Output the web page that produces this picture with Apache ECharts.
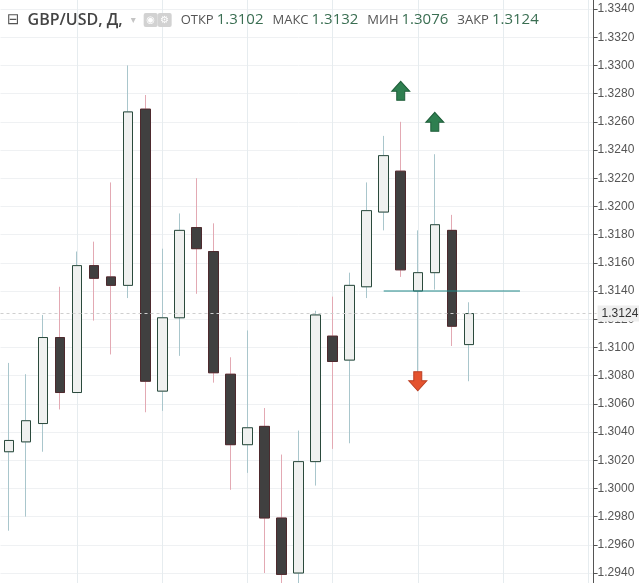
<!DOCTYPE html>
<html><head><meta charset="utf-8">
<script src="https://cdn.jsdelivr.net/npm/echarts@6/dist/echarts.min.js"></script>
<style>html,body{margin:0;padding:0;background:#fff}#c{width:639px;height:583px}</style>
</head><body><div id="c"></div>
<script>
// ---- data ----
const categories = ['D1','D2','D3','D4','D5','D6','D7','D8','D9','D10','D11','D12','D13','D14','D15','D16','D17','D18','D19','D20','D21','D22','D23','D24','D25','D26','D27','D28','D29','D30','D31','D32','D33','D34','D35'];
const opens  = [1.3026,1.3033,1.3046,1.3107,1.3068,1.3158,1.3150,1.3144,1.3269,1.3069,1.3121,1.3185,1.3168,1.3081,1.3031,1.3044,1.2979,1.2940,1.3019,1.3108,1.3091,1.3143,1.3196,1.3225,1.3140,1.3153,1.3183,1.3102];
const closes = [1.3034,1.3048,1.3107,1.3068,1.3158,1.3149,1.3144,1.3267,1.3076,1.3121,1.3183,1.3170,1.3082,1.3031,1.3043,1.2979,1.2939,1.3019,1.3123,1.3090,1.3144,1.3197,1.3236,1.3155,1.3153,1.3187,1.3115,1.3124];
const lows   = [1.2970,1.2980,1.3026,1.3056,1.3068,1.3119,1.3095,1.3135,1.3054,1.3055,1.3094,1.3138,1.3075,1.2999,1.3011,1.2940,1.2930,1.2930,1.3002,1.3028,1.3032,1.3135,1.3183,1.3150,1.3082,1.3141,1.3101,1.3076];
const highs  = [1.3089,1.3081,1.3123,1.3143,1.3168,1.3175,1.3217,1.3300,1.3279,1.3170,1.3195,1.3220,1.3188,1.3093,1.3112,1.3057,1.3024,1.3041,1.3126,1.3136,1.3153,1.3217,1.3250,1.3260,1.3183,1.3237,1.3194,1.3132];
const axisMin = 1.2920, axisMax = 1.3360, axisStep = 0.0020;
const lastPrice = 1.3124;
const headerSymbol = 'GBP/USD, Д,';
const headerLabels = ['ОТКР','МАКС','МИН','ЗАКР'];
const headerValues = ['1.3102','1.3132','1.3076','1.3124'];
const levelFrom = 22, levelTo = 30, levelValue = 1.3140;
const upArrowIdx = [23, 25], upArrowVal = [1.3282, 1.3260];
const downArrowIdx = [24], downArrowVal = [1.3076];

// ---- build ----
const wickData = opens.map((o,i)=>[o, closes[i], lows[i], highs[i]]);
const bodyData = opens.map((o,i)=>[o, closes[i], Math.min(o,closes[i]), Math.max(o,closes[i])]);

let headerText = '{ic|⊟}{sym|' + headerSymbol + '}{dd|▾}{ib|◉}{ib2|⚙}';
headerLabels.forEach((l,i)=>{ headerText += '{lb|' + l + '}{v|' + headerValues[i] + '}'; });

const UP = 'path://M9,0 L18,10 L13,10 L13,19 L5,19 L5,10 L0,10 Z';
const DOWN = 'path://M5,0 L13,0 L13,9 L18,9 L9,19 L0,9 L5,9 Z';
const BW = 10;

const chart = echarts.init(document.getElementById('c'), null, {renderer:'canvas'});
chart.setOption({
  animation: false,
  backgroundColor: '#ffffff',
  title: {
    text: headerText, left: 2, top: 7,
    textStyle: {
      fontWeight: 'normal',
      rich: {
        ic: {fontSize: 15, color: '#555', fontFamily: 'DejaVu Sans', padding: [0, 8, 0, 0]},
        sym: {fontSize: 16, color: '#444', fontFamily: 'Open Sans', fontWeight: 600, padding: [0, 8, 0, 0]},
        dd: {fontSize: 10, color: '#c4c4c4', fontFamily: 'DejaVu Sans', padding: [0, 8, 0, 0]},
        ib: {fontSize: 10, color: '#fff', backgroundColor: '#d2d2d2', width: 14, height: 14, align: 'center', borderRadius: 2, fontFamily: 'DejaVu Sans'},
        ib2: {fontSize: 10, color: '#fff', backgroundColor: '#d2d2d2', width: 14, height: 14, align: 'center', borderRadius: 2, fontFamily: 'DejaVu Sans'},
        lb: {fontSize: 13, color: '#555', fontFamily: 'Open Sans', fontWeight: 'normal', padding: [0, 3, 0, 9]},
        v: {fontSize: 15, color: '#3a6e52', fontFamily: 'Open Sans', fontWeight: 'normal'}
      }
    }
  },
  grid: {left: 0.5, right: 42.4, top: -19.2, bottom: -18.2, containLabel: false, outerBoundsMode: 'none'},
  xAxis: {
    type: 'category', data: categories, boundaryGap: true,
    axisLine: {show: false}, axisTick: {show: false}, axisLabel: {show: false},
    splitLine: {show: true, alignWithLabel: true, interval: (idx)=> idx % 5 === 4, lineStyle: {color: '#e6ecef', width: 1}}
  },
  yAxis: {
    type: 'value', position: 'right', offset: -3, min: axisMin, max: axisMax, interval: axisStep,
    axisLine: {show: true, lineStyle: {color: '#555'}},
    axisTick: {show: true, inside: false, length: 4, lineStyle: {color: '#555'}},
    axisLabel: {color: '#555', fontSize: 12, fontFamily: 'Liberation Sans', margin: 4, formatter: v => v.toFixed(4)},
    splitLine: {show: true, lineStyle: {color: '#eff1f3', width: 1}}
  },
  series: [
    {
      type: 'candlestick', name: 'wick', data: wickData, barWidth: BW, clip: false,
      itemStyle: {color: '#f0f1f0', color0: '#404040', borderColor: '#a9c6cc', borderColor0: '#e3a9b3', borderWidth: 1},
      emphasis: {disabled: true}, z: 2
    },
    {
      type: 'candlestick', name: 'body', data: bodyData, barWidth: BW, clip: false,
      itemStyle: {color: '#f0f1f0', color0: '#404040', borderColor: '#2b4a3c', borderColor0: '#4d2a2e', borderWidth: 1},
      emphasis: {disabled: true}, z: 3
    },
    {
      type: 'line', name: 'level', z: 4, showSymbol: false, symbol: 'none', silent: true,
      data: [[categories[levelFrom], levelValue], [categories[levelTo], levelValue]],
      lineStyle: {color: '#1f8787', width: 1, type: 'solid'},
      itemStyle: {color: '#1f8787'}
    },
    {
      type: 'scatter', name: 'up', symbol: UP, symbolSize: [18,19], z: 5,
      data: upArrowIdx.map((d,i)=>[categories[d], upArrowVal[i]]),
      itemStyle: {color: '#2e7f50', borderColor: '#1f5e3a', borderWidth: 1, opacity: 1},
      markLine: {
        silent: true, symbol: ['none','none'], animation: false, precision: 4,
        data: [{yAxis: lastPrice}],
        lineStyle: {color: '#cfcfcf', type: [3,3], width: 1},
        label: {show: true, position: 'end', formatter: lastPrice.toFixed(4), color: '#333', backgroundColor: '#eeeeee', fontSize: 12, fontFamily: 'Liberation Sans', padding: [2, 6, 2, 4], distance: 1}
      }
    },
    {
      type: 'scatter', name: 'down', symbol: DOWN, symbolSize: [18,19], z: 5,
      data: downArrowIdx.map((d,i)=>[categories[d], downArrowVal[i]]),
      itemStyle: {color: '#e4532f', borderColor: '#bb3e22', borderWidth: 1, opacity: 1}
    }
  ]
});
</script></body></html>
